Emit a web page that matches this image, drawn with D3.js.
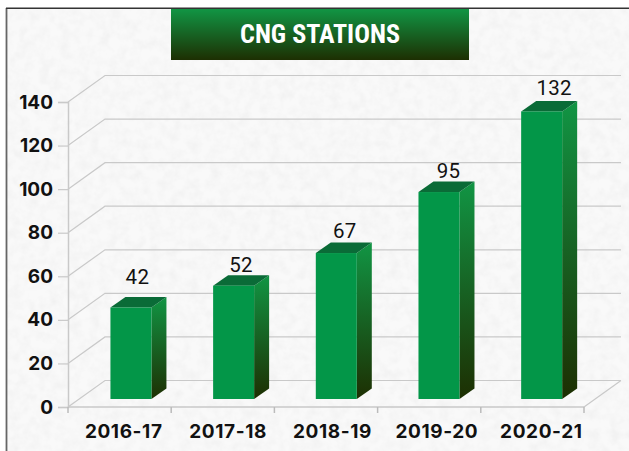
<!DOCTYPE html>
<html><head><meta charset="utf-8">
<style>html,body{margin:0;padding:0;background:#fff;overflow:hidden}svg{display:block}</style>
<script src="https://cdn.jsdelivr.net/npm/d3@7"></script>
</head><body><svg id="c" width="629" height="451"></svg>
<script>
const titleText = "CNG STATIONS";
const categories = ["2016-17","2017-18","2018-19","2019-20","2020-21"];
const stations = [42,52,67,95,132];
const yTicks = [0,20,40,60,80,100,120,140];

const svg = d3.select("#c");
const defs = svg.append("defs");
const grad = (id)=>{const g=defs.append("linearGradient").attr("id",id).attr("x1",0).attr("x2",0).attr("y1",0).attr("y2",1);
  g.append("stop").attr("offset",0).attr("stop-color","#119544");
  g.append("stop").attr("offset",1).attr("stop-color","#1d2f02");};
grad("gTitle"); grad("gSide");
const f=defs.append("filter").attr("id","paper").attr("x",0).attr("y",0).attr("width","100%").attr("height","100%");
f.append("feTurbulence").attr("type","fractalNoise").attr("baseFrequency","0.1").attr("numOctaves",3).attr("seed",4);
f.append("feColorMatrix").attr("values","0 0 0 0 0.86  0 0 0 0 0.86  0 0 0 0 0.86  0.9 0.9 0 0 -0.72");

svg.append("rect").attr("x",7).attr("y",9).attr("width",622).attr("height",442).attr("fill","#f9f9f9");
svg.append("rect").attr("x",7).attr("y",9).attr("width",622).attr("height",442).attr("filter","url(#paper)");
svg.append("path").attr("d","M6.5,451V8").attr("fill","none").attr("stroke","#666").attr("stroke-width",1.8);
svg.append("path").attr("d","M6,8.2H629").attr("fill","none").attr("stroke","#333").attr("stroke-width",1.6);

const axisX = d3.scaleBand().domain(categories).range([68,584]);
const barX = d3.scaleBand().domain(categories).range([79.6,593]);
const labelX = d3.scaleBand().domain(categories).range([71.5,593.5]);
const y = d3.scaleLinear().domain([0,140]).range([407,102]);
const depthX = 37, depthY = 26.5, grid = "#c9c9c9";
const barW = 41, sideX = 15, sideY = 10.5, offY = 8;

const chart = svg.append("g");
yTicks.forEach(t=>{
  const yy=y(t);
  chart.append("path").attr("fill","none").attr("stroke",grid).attr("stroke-width",1.2)
    .attr("d",`M${axisX.range()[0]},${yy}L${axisX.range()[0]+depthX},${yy-depthY}H${axisX.range()[1]+depthX}`);
});
chart.append("path").attr("fill","none").attr("stroke",grid).attr("stroke-width",1.2)
  .attr("d",`M${axisX.range()[1]},${y(0)}L${axisX.range()[1]+depthX},${y(0)-depthY}`);

const yAxis = d3.axisLeft(y).tickValues(yTicks).tickSize(10).tickPadding(5);
const ya = chart.append("g").attr("transform","translate(68,0)").call(yAxis);
const xAxis = d3.axisBottom(labelX).tickSize(0).tickPadding(18);
const xa = chart.append("g").attr("transform",`translate(0,${y(0)})`).call(xAxis);
xa.append("path").attr("d",`M68,0H584`).attr("stroke",grid).attr("stroke-width",1.5);
xa.selectAll(".bt").data(d3.range(categories.length+1)).enter().append("line").attr("class","bt")
  .attr("x1",i=>68+i*axisX.step()).attr("x2",i=>68+i*axisX.step()).attr("y1",0).attr("y2",6).attr("stroke","#bbb").attr("stroke-width",1.5);
xa.select("path.domain").remove();
[ya,xa].forEach(a=>{a.selectAll("path.domain").attr("stroke",grid).attr("stroke-width",1.5);
  a.selectAll(".tick line").attr("stroke",grid).attr("stroke-width",1.2);
  a.selectAll("text").attr("fill","#111").style("font-family","Inter, Roboto, sans-serif").style("font-weight",700).style("font-size","19px");});
xa.selectAll("text").style("letter-spacing","0.6px").attr("dy","0.71em");

const labelNudge = [-2,-1,0,1,4];
const labelRise = [24,14,15,14,16];
const bars = chart.selectAll(".bar").data(categories.map((c,i)=>({c,v:stations[i],i}))).enter().append("g").attr("class","bar");
const fx = d=>barX(d.c)+barX.bandwidth()/2-barW/2;
const baseY = y(0)-offY;
const topY = d=>baseY-(y(0)-y(d.v));
bars.append("path").attr("fill","url(#gSide)")
  .attr("d",d=>`M${fx(d)+barW},${topY(d)}l${sideX},${-sideY}V${baseY-sideY}l${-sideX},${sideY}Z`);
bars.append("path").attr("fill","#0a6b37")
  .attr("d",d=>`M${fx(d)},${topY(d)}l${sideX},${-sideY}h${barW}l${-sideX},${sideY}Z`);
bars.append("rect").attr("fill","#039648").attr("x",fx).attr("y",topY).attr("width",barW).attr("height",d=>baseY-topY(d));
bars.append("text").text(d=>d.v).attr("x",d=>fx(d)+29+labelNudge[d.i]).attr("y",d=>topY(d)-labelRise[d.i])
  .attr("text-anchor","middle").attr("fill","#111").style("font-family","Roboto, sans-serif").style("font-size","20.5px").style("letter-spacing","0.3px");

svg.append("rect").attr("x",171).attr("y",9).attr("width",298).attr("height",51).attr("fill","url(#gTitle)");
svg.append("text").text(titleText).attr("x",320).attr("y",43).attr("text-anchor","middle").attr("fill","#fff")
  .attr("textLength",160).attr("lengthAdjust","spacingAndGlyphs")
  .style("font-family","'Liberation Sans Narrow','Roboto Condensed',Roboto,sans-serif").style("font-weight",700).style("font-size","26px");
</script></body></html>
